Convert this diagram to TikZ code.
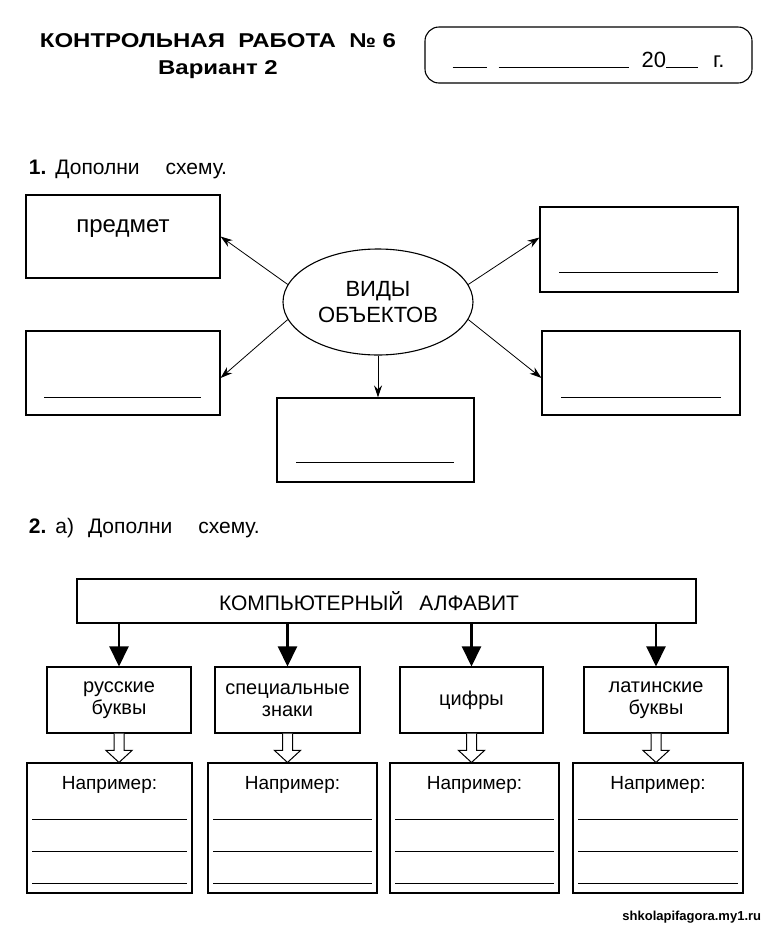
\documentclass[tikz,border=0pt]{standalone}
\usepackage{fontspec}
\setmainfont{Liberation Sans}
\newfontfamily\widefont[FakeStretch=1.2]{Liberation Sans}
\usetikzlibrary{arrows.meta,shapes.geometric,calc}
\newcommand\hollowdown[2]{\draw[line width=1pt,fill=white] let \p1=(#1.south), \p2=(#2.north) in (\x1-5pt,\y1) -- (\x1-5pt,\y2+12pt) -- (\x1-13pt,\y2+12pt) -- (\x1,\y2) -- (\x1+13pt,\y2+12pt) -- (\x1+5pt,\y2+12pt) -- (\x1+5pt,\y1);}
\newcommand\fs[2]{\fontsize{#1}{#2}\selectfont}

\begin{document}
\begin{tikzpicture}[x=1pt,y=-1pt,line width=1.1pt,font=\fs{20}{22},
  box/.style={draw,inner sep=0,align=center},
  blank/.style={line width=1pt},
  thinarrow/.style={line width=0.8pt,-{Stealth[length=12pt,width=8pt]}},
  fatarrow/.style={line width=2.4pt,-{Triangle[length=20pt,width=19pt]}}]
\useasboundingbox (0,0) rectangle (768,927);
\node[font=\widefont\bfseries\fs{20}{27},align=center] (title) at (218,56) {КОНТРОЛЬНАЯ\ \ РАБОТА\ \ № 6\\Вариант 2};
\node[draw,rounded corners=14pt,minimum width=327,minimum height=56,inner sep=0] (date) at (588.5,55) {};
\node[font=\fs{22}{24}] (datetext) at ([yshift=-5pt]date.center) {\rule{34pt}{1pt}\hspace{12pt}\rule{130pt}{1pt}\hspace{13pt}20\rule{32pt}{1pt}\hspace{15pt}г.};
\node[anchor=west,font=\fs{21}{23}] (task1) at (25,169) {\textbf{1.}\hspace{9pt}Дополни\hspace{26pt}схему.};
\node[draw,ellipse,minimum width=190,minimum height=106,inner sep=0,align=center,font=\fs{22}{26}] (vo) at (378,302) {ВИДЫ\\ОБЪЕКТОВ};
\node[box,minimum width=194,minimum height=83] (pred) at (123,236.5) {};
\node[font=\fs{24}{26}] (predtext) at (123,229) {предмет};
\node[box,minimum width=198,minimum height=85] (tr) at (639,249.5) {};
\node[box,minimum width=194,minimum height=84] (lm) at (123,373) {};
\node[box,minimum width=197,minimum height=84] (bm) at (375.5,440) {};
\node[box,minimum width=198,minimum height=84] (rm) at (641,373) {};
\draw[blank] ($(tr.south west)+(20,-20)$) -- ($(tr.south east)+(-21,-20)$);
\draw[blank] ($(lm.south west)+(19,-18)$) -- ($(lm.south east)+(-20,-18)$);
\draw[blank] ($(bm.south west)+(20,-20)$) -- ($(bm.south east)+(-21,-20)$);
\draw[blank] ($(rm.south west)+(20,-18)$) -- ($(rm.south east)+(-20,-18)$);
\draw[thinarrow] (vo.169) -- (pred.east);
\draw[thinarrow] (vo.191) -- ([yshift=-5pt]lm.east);
\draw[thinarrow] (vo.south) -- (vo.south |- bm.north);
\draw[thinarrow] (vo.11) -- ([yshift=12pt]tr.west);
\draw[thinarrow] (vo.349) -- ([yshift=-5pt]rm.west);
\node[anchor=west,font=\fs{21}{23}] (task2) at (25,528) {\textbf{2.}\hspace{9pt}а)\hspace{14pt}Дополни\hspace{26pt}схему.};
\node[box,minimum width=619,minimum height=44] (alf) at (386.5,601) {};
\node[font=\fs{21}{23}] (alftext) at (369,601) {КОМПЬЮТЕРНЫЙ\hspace{16pt}АЛФАВИТ};
\node[box,minimum width=144,minimum height=66] (m1) at (119,700) {русские\\буквы};
\node[box,minimum width=145,minimum height=66] (m2) at (287.5,700) {специальные\\знаки};
\node[box,minimum width=143,minimum height=66] (m3) at (471.5,700) {цифры};
\node[box,minimum width=144,minimum height=66] (m4) at (656,700) {латинские\\буквы};
\draw[fatarrow] (m1.north |- alf.south) -- (m1.north);
\draw[fatarrow] (m2.north |- alf.south) -- (m2.north);
\draw[fatarrow] (m3.north |- alf.south) -- (m3.north);
\draw[fatarrow] (m4.north |- alf.south) -- (m4.north);
\node[box,minimum width=165,minimum height=130] (e1) at (109.5,828) {};
\node[box,minimum width=169,minimum height=130] (e2) at (292.5,828) {};
\node[box,minimum width=169,minimum height=130] (e3) at (474.5,828) {};
\node[box,minimum width=170,minimum height=130] (e4) at (658,828) {};
\foreach \e in {e1,e2,e3,e4}{
  \node[font=\fs{19}{21}] (\e-t) at ($(\e.north)+(0,22)$) {Например:};
  \foreach \d in {57,89,121}
    \draw[blank] ($(\e.north west)+(6,\d)$) -- ($(\e.north east)+(-6,\d)$);
}
\hollowdown{m1}{e1}
\hollowdown{m2}{e2}
\hollowdown{m3}{e3}
\hollowdown{m4}{e4}
\node[anchor=east,font=\bfseries\fs{13}{15}] (site) at (765,917) {shkolapifagora.my1.ru};
\end{tikzpicture}
\end{document}
